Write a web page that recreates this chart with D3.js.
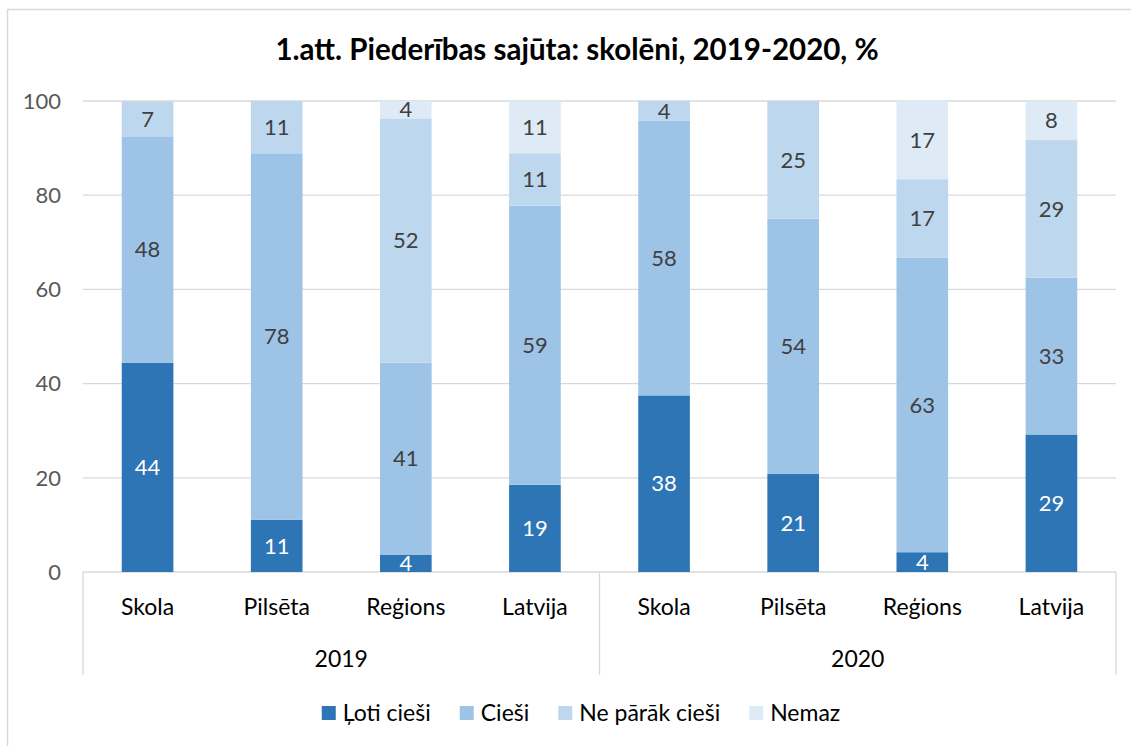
<!DOCTYPE html>
<html><head><meta charset="utf-8">
<script src="https://cdn.jsdelivr.net/npm/d3@7"></script>
<style>body{margin:0;background:#fff;}svg{display:block;font-family:Lato,"Open Sans",sans-serif;}</style>
</head><body>
<script>
const categories = ["Skola","Pilsēta","Reģions","Latvija","Skola","Pilsēta","Reģions","Latvija"];
const years = ["2019","2020"];
const seriesNames = ["Ļoti cieši","Cieši","Ne pārāk cieši","Nemaz"];
const lotiCiesi = [44.4, 11.1, 3.7, 18.5, 37.5, 20.8, 4.2, 29.2];
const ciesi = [48.1, 77.8, 40.7, 59.3, 58.3, 54.2, 62.5, 33.3];
const neParakCiesi = [7.4, 11.1, 51.9, 11.1, 4.2, 25.0, 16.7, 29.2];
const nemaz = [0, 0, 3.7, 11.1, 0, 0, 16.7, 8.3];
const yTicks = [0,20,40,60,80,100];
const title = "1.att. Piederības sajūta: skolēni, 2019-2020, %";
const colors = ["#2E75B6","#9DC3E6","#BDD7EE","#DEEBF7"];
const labelColors = ["#ffffff","#404040","#404040","#404040"];

const W=1131,H=746;
const svg=d3.select("body").append("svg").attr("width",W).attr("height",H);
svg.append("rect").attr("x",7.5).attr("y",9.5).attr("width",W+20).attr("height",H+20)
  .attr("fill","#fff").attr("stroke","#d9d9d9").attr("stroke-width",1.5);

const pLeft=83,pRight=1116,pTop=101,pBottom=572;
const keys=categories.map((c,i)=>i);
const x=d3.scaleBand().domain(keys).range([pLeft,pRight]).paddingInner(0.6).paddingOuter(0.3);
const y=d3.scaleLinear().domain([0,100]).range([pBottom,pTop]);

svg.append("text").attr("x",577).attr("y",50).attr("dy","0.35em").attr("text-anchor","middle")
  .attr("font-weight","bold").attr("font-size",29.5).attr("fill","#000").text(title);

svg.append("g").selectAll("line").data(yTicks).join("line")
  .attr("x1",pLeft).attr("x2",pRight).attr("y1",d=>y(d)).attr("y2",d=>y(d))
  .attr("stroke","#d9d9d9").attr("stroke-width",1.3);
svg.append("g").selectAll("text").data(yTicks).join("text")
  .attr("x",61).attr("y",d=>y(d)).attr("dy","0.35em").attr("text-anchor","end")
  .attr("font-size",22).attr("fill","#595959").text(d=>d);

const table=keys.map(i=>({i,"Ļoti cieši":lotiCiesi[i],"Cieši":ciesi[i],"Ne pārāk cieši":neParakCiesi[i],"Nemaz":nemaz[i]}));
const stacked=d3.stack().keys(seriesNames)(table);

const g=svg.append("g");
stacked.forEach((s,si)=>{
  g.append("g").selectAll("rect").data(s).join("rect")
    .attr("x",d=>x(d.data.i)).attr("width",x.bandwidth())
    .attr("y",d=>y(d[1])).attr("height",d=>y(d[0])-y(d[1]))
    .attr("fill",colors[si]);
});
stacked.forEach((s,si)=>{
  g.append("g").selectAll("text").data(s.filter(d=>d[1]-d[0]>0)).join("text")
    .attr("x",d=>x(d.data.i)+x.bandwidth()/2).attr("y",d=>y((d[0]+d[1])/2)).attr("dy","0.35em")
    .attr("text-anchor","middle").attr("font-size",22).attr("fill",labelColors[si])
    .text(d=>Math.round(d[1]-d[0]));
});

const mid=(pLeft+pRight)/2;
svg.append("g").selectAll("line").data([pLeft,mid,pRight]).join("line")
  .attr("x1",d=>d).attr("x2",d=>d).attr("y1",pBottom).attr("y2",675)
  .attr("stroke","#d9d9d9").attr("stroke-width",1.3);
svg.append("g").selectAll("text").data(keys).join("text")
  .attr("x",d=>x(d)+x.bandwidth()/2).attr("y",607).attr("dy","0.35em").attr("text-anchor","middle")
  .attr("font-size",23).attr("fill","#000").text(d=>categories[d]);
svg.append("g").selectAll("text").data(years).join("text")
  .attr("x",(d,i)=>i===0?(pLeft+mid)/2:(mid+pRight)/2).attr("y",659).attr("dy","0.35em")
  .attr("text-anchor","middle").attr("font-size",23).attr("fill","#000").text(d=>d);

const lg=svg.append("g");
let cx=0;
seriesNames.forEach((n,i)=>{
  const it=lg.append("g");
  it.append("rect").attr("x",cx).attr("y",-7).attr("width",14).attr("height",14).attr("fill",colors[i]);
  const t=it.append("text").attr("x",cx+21).attr("y",0).attr("dy","0.35em").attr("font-size",23).attr("fill","#000").text(n);
  cx+=21+t.node().getComputedTextLength()+29;
});
const lw=cx-29;
lg.attr("transform",`translate(${581-lw/2},713)`);
</script>
</body></html>
